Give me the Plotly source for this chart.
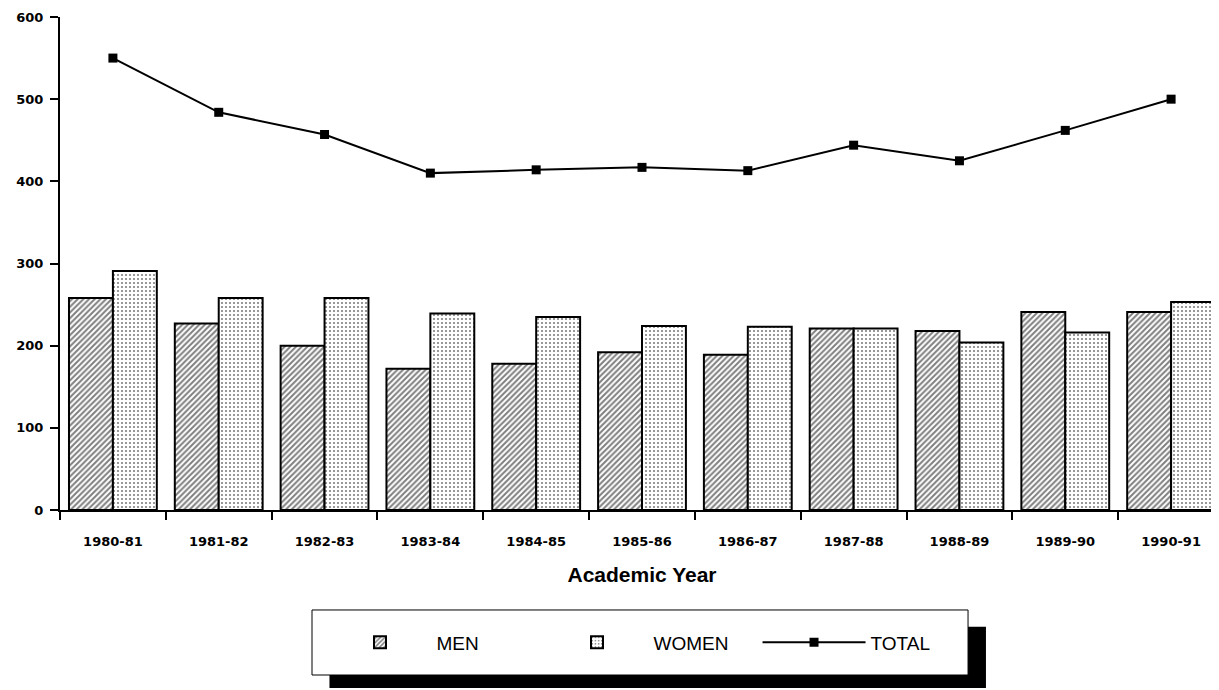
import plotly.graph_objects as go

years = ["1980-81", "1981-82", "1982-83", "1983-84", "1984-85", "1985-86",
         "1986-87", "1987-88", "1988-89", "1989-90", "1990-91"]
men = [258, 227, 200, 172, 178, 192, 189, 221, 218, 241, 241]
women = [291, 258, 258, 239, 235, 224, 223, 221, 204, 216, 253]
total = [550, 484, 457, 410, 414, 417, 413, 444, 425, 462, 500]
y_ticks = [0, 100, 200, 300, 400, 500, 600]

fig = go.Figure()
fig.add_trace(go.Bar(
    x=years, y=men, name="MEN",
    marker=dict(color="white", line=dict(color="black", width=2),
                pattern=dict(shape="/", fgcolor="black", bgcolor="white",
                             size=4, solidity=0.5)),
))
fig.add_trace(go.Bar(
    x=years, y=women, name="WOMEN",
    marker=dict(color="white", line=dict(color="black", width=2),
                pattern=dict(shape=".", fgcolor="black", bgcolor="white",
                             size=4, solidity=0.22)),
))
fig.add_trace(go.Scatter(
    x=years, y=total, name="TOTAL", mode="lines+markers",
    line=dict(color="black", width=2),
    marker=dict(symbol="square", size=9, color="black"),
))

# legend box with drop shadow (paper coords; plot area 1164 x 493 px)
fig.add_shape(type="rect", xref="paper", yref="paper",
              x0=0.2315, x1=0.7955, y0=-0.361, y1=-0.237,
              fillcolor="black", line=dict(width=0), layer="above")
fig.add_shape(type="rect", xref="paper", yref="paper",
              x0=0.2165, x1=0.7801, y0=-0.3347, y1=-0.2028,
              fillcolor="white", line=dict(color="black", width=1), layer="above")

fig.update_layout(
    width=1219, height=690,
    margin=dict(l=52, r=3, t=9, b=188, autoexpand=False),
    paper_bgcolor="white", plot_bgcolor="white",
    barmode="group", bargap=0.17, bargroupgap=0,
    font=dict(family="Liberation Sans", color="black"),
    showlegend=True,
    legend=dict(orientation="h", x=0.2264, xanchor="left", y=-0.2685, yanchor="middle",
                bgcolor="rgba(0,0,0,0)", borderwidth=0,
                font=dict(size=19, family="Liberation Sans"),
                entrywidth=99, entrywidthmode="pixels", itemwidth=103),
    xaxis=dict(
        automargin=False, range=[-0.5, len(years) - 0.5],
        showline=True, linecolor="black", linewidth=2,
        ticks="outside", tickson="boundaries", ticklen=8, tickcolor="black", tickwidth=2,
        tickfont=dict(size=13, family="DejaVu Sans", weight="bold"),
        ticklabelstandoff=18,
        showgrid=False,
        title=dict(text="Academic Year", font=dict(size=21, family="Liberation Sans", weight="bold"),
                   standoff=20),
    ),
    yaxis=dict(
        automargin=False,
        range=[0, 600], tickvals=y_ticks,
        showline=True, linecolor="black", linewidth=2,
        ticks="outside", ticklen=8, tickcolor="black", tickwidth=2,
        tickfont=dict(size=13, family="DejaVu Sans", weight="bold"),
        ticklabeloverflow="allow", ticklabelstandoff=4,
        showgrid=False, zeroline=False,
    ),
)

fig.write_html("out.html")
